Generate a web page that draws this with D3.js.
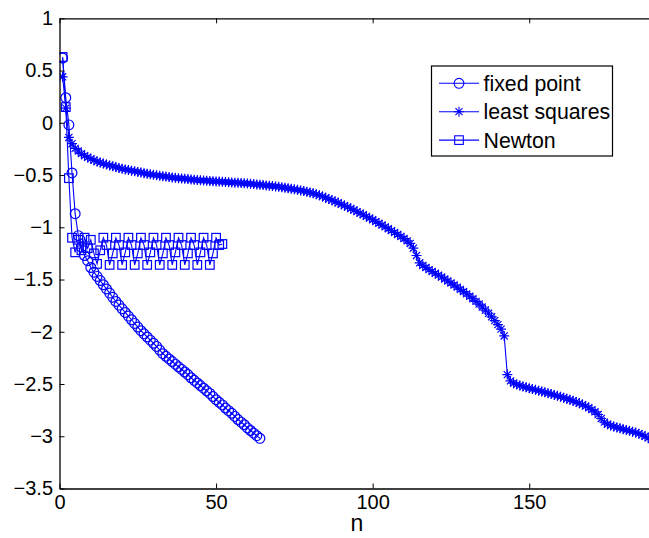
<!DOCTYPE html>
<html>
<head>
<meta charset="utf-8">
<script src="https://cdn.jsdelivr.net/npm/d3@7"></script>
<style>
  html, body { margin: 0; padding: 0; background: #fff; }
  svg { display: block; font-family: "Liberation Sans", Arial, Helvetica, sans-serif; }
</style>
</head>
<body>
<svg id="chart" width="649" height="538"></svg>
<script>
// Iterates per method, indexed n = 1, 2, 3, ...
const fixedPoint = [
  0.62, 0.24, -0.02, -0.48, -0.87, -1.08, -1.19, -1.27, -1.32, -1.385,
  -1.43, -1.47, -1.51, -1.55, -1.59, -1.63, -1.67, -1.71, -1.745, -1.78,
  -1.815, -1.85, -1.885, -1.92, -1.955, -1.99, -2.02, -2.05, -2.08, -2.11,
  -2.14, -2.175, -2.21, -2.235, -2.26, -2.285, -2.31, -2.335, -2.36, -2.385,
  -2.41, -2.44, -2.465, -2.49, -2.515, -2.54, -2.565, -2.59, -2.62, -2.65,
  -2.675, -2.70, -2.73, -2.755, -2.78, -2.81, -2.84, -2.865, -2.89, -2.92,
  -2.945, -2.97, -2.995, -3.02
];

const leastSquares = [
  0.44, 0.14, -0.14, -0.20, -0.245, -0.27, -0.295, -0.315, -0.33, -0.345,
  -0.358, -0.37, -0.38, -0.39, -0.40, -0.408, -0.416, -0.424, -0.432, -0.44,
  -0.446, -0.452, -0.458, -0.464, -0.47, -0.476, -0.482, -0.488, -0.493, -0.498,
  -0.503, -0.507, -0.511, -0.515, -0.519, -0.523, -0.527, -0.53, -0.533, -0.536,
  -0.539, -0.542, -0.545, -0.548, -0.551, -0.553, -0.555, -0.557, -0.559, -0.561,
  -0.563, -0.565, -0.567, -0.569, -0.571, -0.573, -0.575, -0.577, -0.579, -0.581,
  -0.584, -0.587, -0.59, -0.593, -0.596, -0.599, -0.602, -0.605, -0.609, -0.613,
  -0.617, -0.621, -0.626, -0.631, -0.636, -0.642, -0.648, -0.654, -0.66, -0.667,
  -0.675, -0.684, -0.694, -0.705, -0.717, -0.729, -0.741, -0.753, -0.766, -0.779,
  -0.792, -0.806, -0.82, -0.835, -0.85, -0.865, -0.88, -0.896, -0.912, -0.928,
  -0.945, -0.962, -0.979, -0.996, -1.014, -1.032, -1.05, -1.069, -1.088, -1.108,
  -1.13, -1.155, -1.2, -1.27, -1.34, -1.365, -1.385, -1.405, -1.423, -1.44,
  -1.458, -1.476, -1.495, -1.514, -1.533, -1.553, -1.573, -1.594, -1.615, -1.637,
  -1.66, -1.684, -1.709, -1.735, -1.763, -1.792, -1.823, -1.857, -1.893, -1.932,
  -1.975, -2.04, -2.41, -2.47, -2.492, -2.505, -2.515, -2.524, -2.532, -2.54,
  -2.548, -2.556, -2.564, -2.572, -2.58, -2.588, -2.596, -2.604, -2.613, -2.622,
  -2.631, -2.641, -2.651, -2.661, -2.672, -2.684, -2.697, -2.711, -2.727, -2.745,
  -2.766, -2.792, -2.83, -2.865, -2.885, -2.897, -2.907, -2.916, -2.924, -2.932,
  -2.94, -2.948, -2.956, -2.965, -2.975, -2.987, -3.0, -3.015, -3.032, -3.05
];

const newton = [
  0.63, 0.15, -0.53, -1.10, -1.24, -1.12, -1.22, -1.10, -1.20, -1.12,
  -1.25, -1.35, -1.22, -1.10, -1.17, -1.36, -1.25, -1.10, -1.17, -1.36,
  -1.24, -1.10, -1.17, -1.36, -1.25, -1.10, -1.17, -1.36, -1.24, -1.10,
  -1.17, -1.36, -1.25, -1.10, -1.17, -1.36, -1.24, -1.10, -1.17, -1.36,
  -1.25, -1.10, -1.17, -1.36, -1.24, -1.10, -1.17, -1.36, -1.25, -1.10,
  -1.17, -1.16
];

const xTicks = [0, 50, 100, 150];
const xTickLabels = ["0", "50", "100", "150"];
const yTicks = [1, 0.5, 0, -0.5, -1, -1.5, -2, -2.5, -3, -3.5];
const yTickLabels = ["1", "0.5", "0", "\u22120.5", "\u22121", "\u22121.5", "\u22122", "\u22122.5", "\u22123", "\u22123.5"];
const seriesNames = ["fixed point", "least squares", "Newton"];
const xTitle = "n";

const BLUE = "#0000ff";
const FONT = "'Liberation Sans', Arial, Helvetica, sans-serif";
const svg = d3.select("#chart");

const plotLeft = 59.5, plotRight = 654.5, plotTop = 18.3, plotBottom = 488.5;
const x = d3.scaleLinear().domain([0, 190]).range([plotLeft, plotRight]);
const y = d3.scaleLinear().domain([-3.5, 1]).range([plotBottom, plotTop]);

svg.append("rect").attr("width", 649).attr("height", 538).attr("fill", "#fff");

svg.append("defs").append("clipPath").attr("id", "plot-clip")
  .append("rect").attr("x", plotLeft).attr("y", plotTop)
  .attr("width", plotRight - plotLeft).attr("height", plotBottom - plotTop);

// Marker shapes
const markers = {
  circle: g => g.append("circle").attr("r", 4.9),
  square: g => g.append("rect").attr("x", -4.3).attr("y", -4.3).attr("width", 8.6).attr("height", 8.6),
  star: g => {
    const r = 5, d = r * 0.7071;
    g.append("path").attr("d",
      `M${-r},0L${r},0M0,${-r}L0,${r}M${-d},${-d}L${d},${d}M${-d},${d}L${d},${-d}`);
  }
};

const series = [
  { name: seriesNames[0], values: fixedPoint, marker: "circle" },
  { name: seriesNames[1], values: leastSquares, marker: "star" },
  { name: seriesNames[2], values: newton, marker: "square" }
];

const plot = svg.append("g").attr("clip-path", "url(#plot-clip)");
const line = d3.line().x((d, i) => x(i + 1)).y(d => y(d));

series.forEach(s => {
  const g = plot.append("g");
  g.append("path").datum(s.values).attr("d", line)
    .attr("fill", "none").attr("stroke", BLUE).attr("stroke-width", 1.1);
  g.selectAll("g.mk").data(s.values).join("g").attr("class", "mk")
    .attr("transform", (d, i) => `translate(${x(i + 1)},${y(d)})`)
    .attr("fill", "none").attr("stroke", BLUE).attr("stroke-width", 1.2)
    .each(function () { markers[s.marker](d3.select(this)); });
});

// Axes (ticks point inward)
const axisStyle = g => {
  g.attr("font-family", FONT).attr("font-size", 20);
  g.selectAll("path.domain").attr("stroke", "#000").attr("stroke-width", 1.3);
  g.selectAll(".tick line").attr("stroke", "#000");
  g.selectAll(".tick text").attr("fill", "#000");
};

svg.append("g").attr("transform", `translate(0,${plotBottom})`)
  .call(d3.axisBottom(x).tickValues(xTicks).tickFormat((d, i) => xTickLabels[i])
    .tickSizeInner(-5).tickSizeOuter(0).tickPadding(6.5))
  .call(axisStyle);

svg.append("g").attr("transform", `translate(0,${plotTop})`)
  .call(d3.axisTop(x).tickValues(xTicks).tickFormat("")
    .tickSizeInner(-5).tickSizeOuter(0))
  .call(axisStyle);

svg.append("g").attr("transform", `translate(${plotLeft},0)`)
  .call(d3.axisLeft(y).tickValues(yTicks).tickFormat((d, i) => yTickLabels[i])
    .tickSizeInner(-5).tickSizeOuter(0).tickPadding(6.5))
  .call(axisStyle);

svg.append("text").attr("x", (plotLeft + plotRight) / 2).attr("y", 531)
  .attr("text-anchor", "middle").attr("font-size", 23).attr("fill", "#000")
  .attr("font-family", FONT).text(xTitle);

// Legend
const lg = svg.append("g");
lg.append("rect").attr("x", 431.5).attr("y", 66).attr("width", 181).attr("height", 90)
  .attr("fill", "#fff").attr("stroke", "#000").attr("stroke-width", 1.2);
series.forEach((s, i) => {
  const cy = 83.3 + i * 28.4;
  lg.append("line").attr("x1", 439).attr("x2", 479).attr("y1", cy).attr("y2", cy)
    .attr("stroke", BLUE).attr("stroke-width", 1.1);
  const m = lg.append("g").attr("transform", `translate(459,${cy})`)
    .attr("fill", "none").attr("stroke", BLUE).attr("stroke-width", 1.1);
  markers[s.marker](m);
  lg.append("text").attr("x", 483.5).attr("y", cy).attr("dy", "0.35em")
    .attr("font-family", FONT).attr("font-size", 21.3).attr("fill", "#000").text(s.name);
});
</script>
</body>
</html>
